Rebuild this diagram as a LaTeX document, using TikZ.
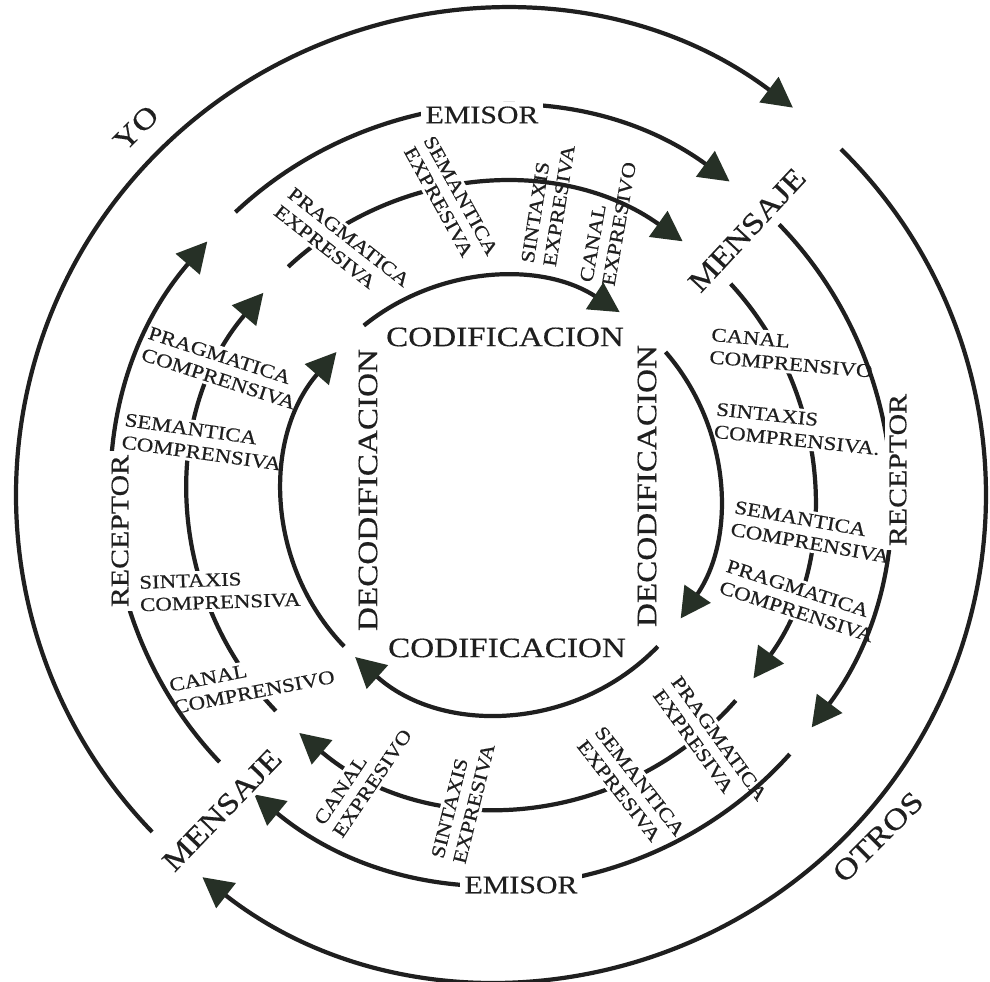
\documentclass[tikz,border=0pt]{standalone}
\usepackage{fontspec}
\setmainfont{Liberation Serif}[FakeStretch=1.18, FakeBold=0.5]
\usetikzlibrary{arrows.meta}
\definecolor{ink}{HTML}{1F1F1F}
\definecolor{headc}{HTML}{263026}
\newcommand\ringarc[4]{\draw[#1] ([shift={(#2:#4)}]C) arc[start angle=#2, end angle=#3, radius=#4];}
\tikzset{
  ring/.style={draw=ink, line width=1.2pt},
  arr/.style={ring, -{Triangle[length=3.0mm, width=3.1mm, color=headc]}},
  biglab/.style={font=\fontsize{7.2}{8}\selectfont, text=ink, inner sep=1.2pt},
  largelab/.style={font=\fontsize{8.4}{9}\selectfont, text=ink, inner sep=1.2pt},
  codlab/.style={font=\fontsize{8.0}{9}\selectfont, text=ink, inner sep=1pt},
  smalllab/.style={font=\fontsize{5.5}{6.4}\selectfont, text=ink, align=left, inner sep=0.8pt},
  blank/.style={fill=white}
}
\begin{document}
\begin{tikzpicture}
\useasboundingbox (0,0) rectangle (9.90,9.81);
\fill[white] (0,0) rectangle (9.90,9.81);
\coordinate (C) at (5.01,4.86);

% ring 3 (pragmatica / semantica / sintaxis / canal)
\ringarc{arr}{133}{54.4}{3.12}
\ringarc{arr}{42.6}{-36}{3.12}
\ringarc{arr}{-41.2}{-130.3}{3.12}
\ringarc{arr}{223.8}{139.6}{3.12}

% small labels on ring 3
\node[smalllab, blank, rotate=-38] (peT) at (3.42,7.35) {PRAGMATICA\\EXPRESIVA};
\node[smalllab, blank, rotate=-61] (seT) at (4.51,7.80) {SEMANTICA\\EXPRESIVA};
\node[smalllab, rotate=81] (sxT) at (5.48,7.77) {SINTAXIS\\EXPRESIVA};
\node[smalllab, rotate=80] (ceT) at (6.08,7.59) {CANAL\\EXPRESIVO};
\node[smalllab, blank, rotate=-5] (ccR) at (7.92,6.28) {CANAL\\COMPRENSIVO};
\node[smalllab, blank, rotate=-6] (scR) at (7.98,5.52) {SINTAXIS\\COMPRENSIVA.};
\node[smalllab, blank, rotate=-10] (smR) at (8.12,4.49) {SEMANTICA\\COMPRENSIVA};
\node[smalllab, blank, rotate=-18] (pcR) at (8.00,3.80) {PRAGMATICA\\COMPRENSIVA};
\node[smalllab, blank, rotate=-54] (peB) at (7.10,2.36) {PRAGMATICA\\EXPRESIVA};
\node[smalllab, blank, rotate=-52] (seB) at (6.31,1.93) {SEMANTICA\\EXPRESIVA};
\node[smalllab, blank, rotate=76] (sxB) at (4.63,1.80) {SINTAXIS\\EXPRESIVA};
\node[smalllab, blank, rotate=56] (ceB) at (3.63,2.04) {CANAL\\EXPRESIVO};
\node[smalllab, blank, rotate=11] (ccL) at (2.52,3.00) {CANAL\\COMPRENSIVO};
\node[smalllab, blank, rotate=2] (scL) at (2.20,3.90) {SINTAXIS\\COMPRENSIVA};
\node[smalllab, blank, rotate=-8] (smL) at (2.03,5.39) {SEMANTICA\\COMPRENSIVA};
\node[smalllab, blank, rotate=-18] (pcL) at (2.22,6.13) {PRAGMATICA\\COMPRENSIVA};

% ring 4 (codificacion / decodificacion)
\ringarc{arr}{129}{57}{2.18}
\ringarc{arr}{41}{-34.5}{2.18}
\ringarc{arr}{-44}{-132}{2.18}
\ringarc{arr}{224}{139}{2.18}

% ring 2 (emisor / mensaje / receptor)
\ringarc{arr}{133.2}{53.9}{3.88}
\ringarc{arr}{44.2}{-36.8}{3.88}
\ringarc{arr}{-41.9}{-129.5}{3.88}
\ringarc{arr}{223.5}{139.2}{3.88}

% outer ring (yo / otros)
\ringarc{arr}{224}{53}{4.85}
\ringarc{arr}{45.5}{-128}{4.85}

% big labels
\node[largelab, rotate=45] (yo) at (1.36,8.53) {YO};
\node[largelab, rotate=45] (otros) at (8.78,1.44) {OTROS};
\node[biglab, blank] (emT) at (4.82,8.66) {EMISOR};
\node[biglab, blank] (emB) at (5.21,0.96) {EMISOR};
\node[largelab, blank, rotate=47] (meT) at (7.47,7.51) {MENSAJE};
\node[largelab, blank, rotate=46] (meB) at (2.22,1.71) {MENSAJE};
\node[biglab, blank, rotate=90] (reR) at (8.98,5.11) {RECEPTOR};
\node[biglab, blank, rotate=90] (reL) at (1.20,4.50) {RECEPTOR};
\node[codlab, rotate=90] (deL) at (3.68,4.91) {DECODIFICACION};
\node[codlab, rotate=90] (deR) at (6.47,4.95) {DECODIFICACION};
\node[codlab] (coT) at (5.05,6.44) {CODIFICACION};
\node[codlab] (coB) at (5.07,3.33) {CODIFICACION};
\end{tikzpicture}
\end{document}
